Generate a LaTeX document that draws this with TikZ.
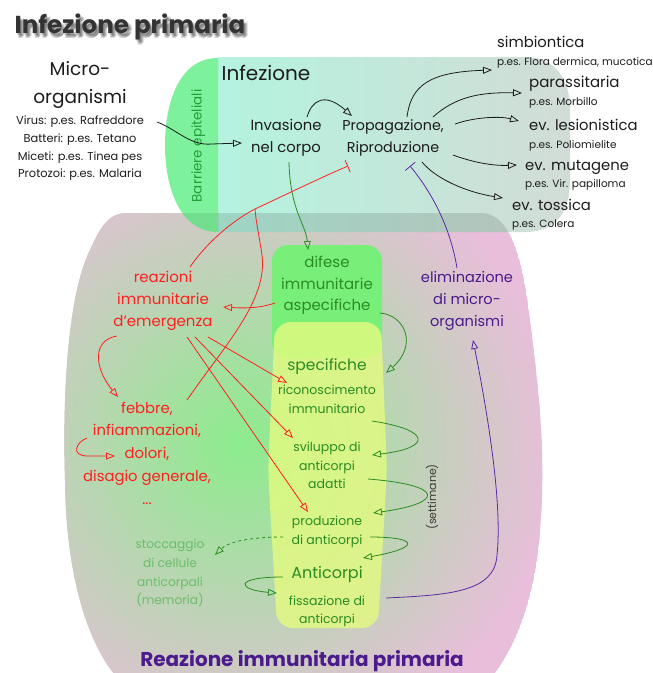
\documentclass[tikz,border=0pt]{standalone}
\usepackage{fontspec}
\setmainfont{Poppins}
\usetikzlibrary{arrows.meta}
\definecolor{cpink}{HTML}{E8BEDA}
\definecolor{cgreen}{HTML}{8CEC8C}
\definecolor{ccyan}{HTML}{B4F3DF}
\definecolor{cmid}{HTML}{BEEEDC}
\definecolor{cgray}{HTML}{D2DCD6}
\definecolor{cbarr}{HTML}{7EF19C}
\definecolor{ccol}{HTML}{78EF78}
\definecolor{cyel}{HTML}{E4FB80}
\definecolor{tblack}{HTML}{1C1C1C}
\definecolor{tred}{HTML}{FF2020}
\definecolor{tgreen}{HTML}{2A8C22}
\definecolor{tbarr}{HTML}{239E36}
\definecolor{tmem}{HTML}{6CBC6C}
\definecolor{tpurp}{HTML}{4B1A8C}
\definecolor{lpurp}{HTML}{5A2AA0}
\definecolor{tsett}{HTML}{3A3A3A}
\newcommand{\fsz}[2]{\fontsize{#1}{#2}\selectfont}
\def\pinkpath{(127,213) -- (483,213) .. controls (508,215) and (522,250) .. (530,320) .. controls (540,400) and (548,470) .. (537,560) .. controls (528,620) and (508,660) .. (485,685) -- (125,685) .. controls (95,660) and (66,590) .. (65,480) .. controls (62,380) and (70,290) .. (90,250) .. controls (100,228) and (108,213) .. (127,213) -- cycle}
\def\cyanpath{(218,57) -- (525,57) .. controls (556,57) and (570,80) .. (570,110) -- (570,180) .. controls (570,212) and (556,232) .. (525,232) -- (218,232) -- cycle}
\def\barrpath{(218,58) .. controls (178,58) and (165,105) .. (165,145) .. controls (165,188) and (180,232) .. (218,232) -- cycle}
\begin{document}
\begin{tikzpicture}[x=1pt,y=-1pt,
  tx/.style={inner sep=0pt, align=center, execute at begin node=\strut, execute at end node=\strut},
  oa/.style={-{Triangle[open,length=9pt,width=7pt]}},
  bline/.style={draw=tblack, line width=0.8pt},
  gline/.style={draw=tgreen, line width=0.8pt},
  rline/.style={draw=tred, line width=0.8pt},
  pline/.style={draw=lpurp, line width=0.8pt},
  tbar/.style={-{Bar[width=13pt]}}
]
\useasboundingbox (0,0) rectangle (653,673);
\fill[white] (0,0) rectangle (653,673);

% big pink/green region
\begin{scope}
  \clip \pinkpath;
  \fill[cpink] \pinkpath;
  \shade[inner color=cgreen, outer color=cpink] (240,445) circle (315);
\end{scope}

% infection region
\shade[left color=ccyan, middle color=cmid, right color=cgray] \cyanpath;
\fill[cbarr] \barrpath;
\begin{scope}
  \clip \pinkpath;
  \fill[black, opacity=0.12] \cyanpath;
  \fill[black, opacity=0.08] \barrpath;
\end{scope}

% columns
\fill[ccol, rounded corners=16] (272,245) rectangle (382,358);
\fill[cyel, opacity=0.8, rounded corners=16] (275,322) -- (381,322) -- (387,470) -- (378,628) -- (277,628) -- (268,470) -- cycle;

% title with soft shadow
\foreach \dx/\dy [count=\k] in {1/2,3/4,2/5,4/3}
  \node[tx, font=\bfseries\fsz{24.5}{36}, text=black, opacity=0.16] (tsh\k) at ({130+\dx},{26+\dy}) {Infezione primaria};
\node[tx, font=\bfseries\fsz{24.5}{36}, text=tblack!90] (title) at (130,26) {Infezione primaria};

% texts
\node[tx, font=\fsz{18.5}{28}, text=tblack] (micro) at (80,87) {Micro-\\organismi};
\node[tx, font=\fsz{11.4}{17.7}, text=tblack] (ex) at (80,149.5) {Virus: p.es. Rafreddore\\Batteri: p.es. Tetano\\Miceti: p.es. Tinea pes\\Protozoi: p.es. Malaria};
\node[tx, font=\fsz{13.5}{18}, text=tbarr, rotate=90] (barr) at (198,146) {Barriere epiteliali};
\node[tx, font=\fsz{20}{30}, text=tblack] (infez) at (266,74) {Infezione};
\node[tx, font=\fsz{14.8}{22}, text=tblack] (inv) at (286,139) {Invasione\\nel corpo};
\node[tx, font=\fsz{14.3}{22}, text=tblack] (prop) at (393,139) {Propagazione,\\Riproduzione};

\node[tx, anchor=west, font=\fsz{14.8}{22}, text=tblack] (simb) at (497,43) {simbiontica};
\node[tx, anchor=west, font=\fsz{10.5}{15}, text=tblack] (simbx) at (497,62) {p.es. Flora dermica, mucotica};
\node[tx, anchor=west, font=\fsz{15}{22}, text=tblack] (paras) at (529,83) {parassitaria};
\node[tx, anchor=west, font=\fsz{10.5}{15}, text=tblack] (parasx) at (529,102) {p.es. Morbillo};
\node[tx, anchor=west, font=\fsz{14.8}{22}, text=tblack] (lesion) at (529,126) {ev. lesionistica};
\node[tx, anchor=west, font=\fsz{10.5}{15}, text=tblack] (lesionx) at (529,145) {p.es. Poliomielite};
\node[tx, anchor=west, font=\fsz{14.8}{22}, text=tblack] (mutag) at (525,166) {ev. mutagene};
\node[tx, anchor=west, font=\fsz{10.5}{15}, text=tblack] (mutagx) at (525,184) {p.es. Vir. papilloma};
\node[tx, anchor=west, font=\fsz{14.8}{22}, text=tblack] (toss) at (512,206) {ev. tossica};
\node[tx, anchor=west, font=\fsz{10.5}{15}, text=tblack] (tossx) at (512,224) {p.es. Colera};

\node[tx, font=\fsz{15}{21.5}, text=tgreen] (difese) at (327,286.5) {difese\\immunitarie\\aspecifiche};
\node[tx, font=\fsz{15.5}{23}, text=tgreen] (spec) at (327,366) {specifiche};
\node[tx, font=\fsz{12.5}{18.5}, text=tgreen] (ricon) at (327,402) {riconoscimento\\immunitario};
\node[tx, font=\fsz{12.5}{18.5}, text=tgreen] (svil) at (327,468.5) {sviluppo di\\anticorpi\\adatti};
\node[tx, font=\fsz{12.5}{18.5}, text=tgreen] (prod) at (327,533) {produzione\\di anticorpi};
\node[tx, font=\fsz{16}{24}, text=tgreen] (antic) at (327,574) {Anticorpi};
\node[tx, font=\fsz{12.5}{18}, text=tgreen] (fiss) at (327,612) {fissazione di\\anticorpi};

\node[tx, font=\fsz{15}{22}, text=tred] (reaz) at (163,302) {reazioni\\immunitarie\\d'emergenza};
\node[tx, font=\fsz{14.8}{22.8}, text=tred] (febbre) at (147,456.5) {febbre,\\infiammazioni,\\dolori,\\disagio generale,\\...};
\node[tx, font=\fsz{12.2}{18.7}, text=tmem] (stocc) at (170,575) {stoccaggio\\di cellule\\anticorpali\\(memoria)};
\node[tx, font=\fsz{14.6}{22}, text=tpurp] (elim) at (467,302) {eliminazione\\di micro-\\organismi};
\node[tx, font=\fsz{11}{16}, text=tsett, rotate=90] (sett) at (433,497) {(settimane)};
\node[tx, font=\bfseries\fsz{20}{30}, text=tpurp] (reazprim) at (302,660) {Reazione immunitaria primaria};

% black connectors
\draw[bline,oa] ([shift={(77,-27.5)}]ex.center) .. controls (178,130) and (190,146) .. (212,144) -- ([shift={(-44,4)}]inv.center);
\draw[bline,oa] ([shift={(21,-22)}]inv.center) .. controls (312,100) and (325,92) .. ([shift={(-41,-23)}]prop.center);
\draw[bline,oa] ([shift={(14,-22)}]prop.center) .. controls (411,85) and (430,72) .. ([shift={(-5,8)}]simbx.west);
\draw[bline,oa] ([shift={(40,-22)}]prop.center) .. controls (455,97) and (480,92) .. ([shift={(-7,10)}]paras.west);
\draw[bline,oa] ([shift={(62,-15)}]prop.center) .. controls (475,117) and (500,116) .. ([shift={(-10,-5)}]lesion.west);
\draw[bline,oa] ([shift={(60,16)}]prop.center) .. controls (472,162) and (492,166) .. ([shift={(-8,-1)}]mutag.west);
\draw[bline,oa] ([shift={(29,23)}]prop.center) .. controls (435,178) and (465,192) .. ([shift={(-9,-8)}]toss.west);

% green connectors
\draw[gline,oa] ([shift={(3,23)}]inv.center) .. controls (290,210) and (306,225) .. ([shift={(-19,-36.5)}]difese.center);
\draw[gline,oa] ([shift={(53,26.5)}]difese.center) .. controls (405,315) and (418,345) .. ([shift={(59,7)}]spec.center);
\draw[gline,oa] ([shift={(45,19)}]ricon.center) .. controls (432,430) and (432,448) .. ([shift={(45,-13.5)}]svil.center);
\draw[gline,oa] ([shift={(41,10.5)}]svil.center) .. controls (445,485) and (445,503) .. ([shift={(46,-20)}]prod.center);
\draw[gline,oa] ([shift={(43,4)}]prod.center) .. controls (420,537) and (420,548) .. ([shift={(36,-16)}]antic.center);
\draw[gline,oa] ([shift={(-44,3)}]antic.center) .. controls (232,577) and (238,590) .. ([shift={(-50,-19)}]fiss.center);
\draw[gline,oa,dashed] ([shift={(-44,4)}]prod.center) .. controls (250,537) and (228,542) .. ([shift={(45,-20)}]stocc.center);

% red connectors
\coordinate (rj) at (255,209);
\draw[rline,tbar] ([shift={(27,-35)}]reaz.center) .. controls (205,245) and (230,222) .. (rj) .. controls (285,195) and (320,178) .. ([shift={(-45,27)}]prop.center);
\draw[rline] ([shift={(40,-56.5)}]febbre.center) .. controls (225,345) and (268,300) .. (262,255) .. controls (259,235) and (256,222) .. (rj);
\draw[rline,oa] ([shift={(-52,16.5)}]difese.center) .. controls (258,309) and (240,308) .. ([shift={(60,5)}]reaz.center);
\draw[rline,oa] ([shift={(-46,34)}]reaz.center) .. controls (92,340) and (94,368) .. ([shift={(-29,-59.5)}]febbre.center);
\draw[rline,oa] ([shift={(45,35)}]reaz.center) -- ([shift={(-40,-19)}]ricon.center);
\draw[rline,oa] ([shift={(32,35)}]reaz.center) -- ([shift={(-34,-30.5)}]svil.center);
\draw[rline,oa] ([shift={(24,35)}]reaz.center) -- ([shift={(-19,-21)}]prod.center);
\draw[rline,oa] ([shift={(-60,-18.5)}]febbre.center) .. controls (76,442) and (70,456) .. (88,456) -- ([shift={(-32,-0.5)}]febbre.center);

% purple connectors
\draw[pline,tbar] ([shift={(-10,-34)}]elim.center) .. controls (450,225) and (430,190) .. ([shift={(17,27)}]prop.center);
\draw[pline,oa] ([shift={(59,-14)}]fiss.center) .. controls (450,595) and (495,592) .. (497,555) .. controls (503,500) and (485,400) .. ([shift={(6,38)}]elim.center);
\end{tikzpicture}
\end{document}
